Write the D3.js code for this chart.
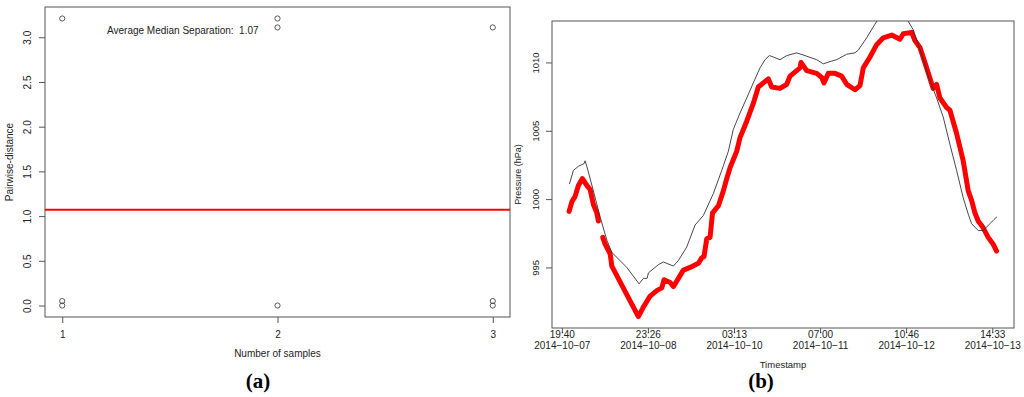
<!DOCTYPE html>
<html>
<head>
<meta charset="utf-8">
<script src="https://cdn.jsdelivr.net/npm/d3@7"></script>
<style>
  html, body { margin: 0; padding: 0; background: #fff; }
  svg { display: block; font-family: "Liberation Sans", Arial, sans-serif; }
</style>
</head>
<body>
<svg id="chart" width="1024" height="397"></svg>
<script>
// ---------- Panel (a) data ----------
const sampleCounts = [1, 1, 1, 2, 2, 2, 3, 3, 3];
const pairwiseDistances = [3.21, 0.05, 0.0, 3.21, 3.11, 0.0, 3.11, 0.05, 0.0];
const averageMedianSeparation = 1.07;
const panelAXTicks = [1, 2, 3];
const panelAYTicks = [0.0, 0.5, 1.0, 1.5, 2.0, 2.5, 3.0];

// ---------- Panel (b) data ----------
// Red (thick) series; null marks the gap in the record
const redTimes = [
  "2014-10-07 22:01","2014-10-07 22:54","2014-10-07 23:57","2014-10-08 01:01","2014-10-08 02:18",
  "2014-10-08 03:44","2014-10-08 04:48","2014-10-08 05:51","2014-10-08 06:57","2014-10-08 07:28",
  "2014-10-08 08:10",
  "2014-10-08 08:53","2014-10-08 09:38","2014-10-08 11:15","2014-10-08 11:48","2014-10-08 20:22",
  "2014-10-08 21:59","2014-10-09 00:09","2014-10-09 02:18","2014-10-09 03:55","2014-10-09 04:39",
  "2014-10-09 06:36","2014-10-09 07:39","2014-10-09 08:45","2014-10-09 10:53","2014-10-09 13:03",
  "2014-10-09 15:43","2014-10-09 16:49","2014-10-09 17:33","2014-10-09 18:26","2014-10-09 19:30",
  "2014-10-09 20:18","2014-10-09 22:10","2014-10-09 23:47","2014-10-10 00:53","2014-10-10 01:57",
  "2014-10-10 04:06","2014-10-10 05:10","2014-10-10 07:20","2014-10-10 09:27","2014-10-10 11:04",
  "2014-10-10 12:41","2014-10-10 14:18","2014-10-10 15:24","2014-10-10 18:04","2014-10-10 20:14",
  "2014-10-10 21:18","2014-10-11 00:31","2014-10-11 00:50","2014-10-11 02:41","2014-10-11 05:54",
  "2014-10-11 07:31","2014-10-11 08:16","2014-10-11 09:39","2014-10-11 11:48","2014-10-11 13:58",
  "2014-10-11 15:35","2014-10-11 18:15","2014-10-11 19:52","2014-10-11 20:56","2014-10-11 23:06",
  "2014-10-12 01:15","2014-10-12 03:23","2014-10-12 06:06","2014-10-12 08:46","2014-10-12 09:50",
  "2014-10-12 12:33","2014-10-12 13:36","2014-10-12 15:13","2014-10-12 17:23","2014-10-12 19:30",
  "2014-10-12 20:36","2014-10-12 21:40","2014-10-12 23:50","2014-10-13 00:54","2014-10-13 03:03",
  "2014-10-13 05:11","2014-10-13 06:48","2014-10-13 07:54","2014-10-13 08:57","2014-10-13 10:01",
  "2014-10-13 11:38","2014-10-13 13:15","2014-10-13 14:51","2014-10-13 15:57"
];
const redPressure = [
  999.1, 999.8, 1000.2, 1001.0, 1001.5,
  1001.0, 1000.7, 999.6, 999.0, 998.4,
  null,
  997.2, 996.7, 996.0, 995.1, 991.4,
  992.1, 992.9, 993.3, 993.5, 994.1,
  993.9, 993.6, 994.0, 994.8, 995.0,
  995.3, 995.7, 995.8, 997.1, 997.2,
  999.0, 999.5, 1000.6, 1001.5, 1002.3,
  1003.5, 1004.5, 1005.7, 1007.0, 1008.2,
  1008.5, 1008.8, 1008.2, 1008.1, 1008.4,
  1009.0, 1009.6, 1010.0, 1009.4, 1009.2,
  1008.9, 1008.5, 1009.2, 1009.2, 1009.0,
  1008.4, 1008.0, 1008.3, 1009.6, 1010.4,
  1011.3, 1011.8, 1012.0, 1011.7, 1012.1,
  1012.2, 1011.6, 1011.1, 1009.6, 1008.1,
  1008.4, 1007.4, 1006.7, 1006.5, 1004.8,
  1002.8, 1000.6, 999.9, 999.0, 998.4,
  997.9, 997.2, 996.7, 996.2
];
// Black (thin) series
const blackTimes = [
  "2014-10-07 22:07","2014-10-07 23:24","2014-10-08 01:01","2014-10-08 02:51","2014-10-08 03:11",
  "2014-10-08 03:44","2014-10-08 05:51","2014-10-08 08:01","2014-10-08 10:11","2014-10-08 11:48",
  "2014-10-08 16:38","2014-10-08 20:36","2014-10-08 21:59","2014-10-08 23:11","2014-10-08 23:36",
  "2014-10-09 02:49","2014-10-09 04:26","2014-10-09 07:39","2014-10-09 09:16","2014-10-09 11:59",
  "2014-10-09 14:39","2014-10-09 17:20","2014-10-09 20:33","2014-10-09 23:16","2014-10-10 01:24",
  "2014-10-10 03:00","2014-10-10 05:10","2014-10-10 07:20","2014-10-10 09:27","2014-10-10 11:37",
  "2014-10-10 13:14","2014-10-10 14:37","2014-10-10 15:54","2014-10-10 18:04","2014-10-10 20:14",
  "2014-10-10 23:27","2014-10-11 02:08","2014-10-11 05:54","2014-10-11 08:02","2014-10-11 10:45",
  "2014-10-11 12:21","2014-10-11 15:35","2014-10-11 18:15","2014-10-11 19:19","2014-10-11 22:02",
  "2014-10-12 00:42","2014-10-12 02:58","2014-10-12 06:11","2014-10-12 09:05","2014-10-12 11:27",
  "2014-10-12 13:03","2014-10-12 14:40","2014-10-12 15:46","2014-10-12 17:54","2014-10-12 20:36",
  "2014-10-12 22:44","2014-10-13 00:54","2014-10-13 03:03","2014-10-13 05:11","2014-10-13 06:48",
  "2014-10-13 07:54","2014-10-13 10:01","2014-10-13 11:38","2014-10-13 13:48","2014-10-13 15:05",
  "2014-10-13 16:03"
];
const blackPressure = [
  1001.1, 1002.1, 1002.4, 1002.6, 1002.8,
  1002.4, 1000.6, 998.7, 997.0, 996.1,
  995.0, 993.8, 994.2, 994.2, 994.6,
  995.2, 995.4, 995.1, 995.5, 996.5,
  998.1, 998.8, 1000.4, 1002.1, 1003.5,
  1005.1, 1006.3, 1007.4, 1008.5, 1009.6,
  1010.2, 1010.5, 1010.4, 1010.2, 1010.5,
  1010.7, 1010.5, 1010.2, 1009.9, 1010.1,
  1010.2, 1010.6, 1010.7, 1010.9, 1011.8,
  1012.8, 1013.6, 1014.1, 1013.9, 1013.0,
  1012.4, 1011.3, 1010.6, 1009.0, 1007.4,
  1006.0, 1004.0, 1002.1, 1000.1, 998.9,
  998.2, 997.7, 997.7, 998.2, 998.5,
  998.7
];
const panelBXTicks = ["2014-10-07 19:40","2014-10-08 23:26","2014-10-10 03:13",
                      "2014-10-11 07:00","2014-10-12 10:46","2014-10-13 14:33"];
const panelBYTicks = [995, 1000, 1005, 1010];

// ---------- Drawing ----------
const svg = d3.select("#chart");
const AXIS = "#555";
const TEXT = "#222";
const parse = d3.utcParse("%Y-%m-%d %H:%M");

function padExtent(ext, f) {
  const r = ext[1] - ext[0];
  return [ext[0] - f * r, ext[1] + f * r];
}

// ===== Panel (a) =====
(function () {
  const L = 45, R = 510, T = 7, B = 317;
  const x = d3.scaleLinear().domain(padExtent(d3.extent(sampleCounts), 0.04)).range([L, R]);
  const y = d3.scaleLinear().domain(padExtent(d3.extent(pairwiseDistances), 0.04)).range([B, T]);
  const g = svg.append("g");

  // y axis
  const ya = g.append("g").attr("transform", `translate(${L},0)`)
    .call(d3.axisLeft(y).tickValues(panelAYTicks).tickFormat(d3.format(".1f")).tickSize(6).tickPadding(0));
  ya.select(".domain").remove();
  ya.selectAll(".tick line").attr("stroke", AXIS);
  ya.selectAll(".tick text")
    .attr("transform", "rotate(-90)")
    .attr("x", 0).attr("y", -14).attr("dy", null)
    .attr("text-anchor", "middle")
    .attr("font-size", 10).attr("fill", TEXT);

  // x axis
  const xa = g.append("g").attr("transform", `translate(0,${B})`)
    .call(d3.axisBottom(x).tickValues(panelAXTicks).tickFormat(d3.format("d")).tickSize(6).tickPadding(8));
  xa.select(".domain").remove();
  xa.selectAll(".tick line").attr("stroke", AXIS);
  xa.selectAll(".tick text").attr("font-size", 10).attr("fill", TEXT);

  // box
  g.append("rect").attr("x", L).attr("y", T).attr("width", R - L).attr("height", B - T)
    .attr("fill", "none").attr("stroke", AXIS).attr("stroke-width", 1);

  // average median separation line
  g.append("line").attr("x1", L).attr("x2", R)
    .attr("y1", y(averageMedianSeparation)).attr("y2", y(averageMedianSeparation))
    .attr("stroke", "#ff0000").attr("stroke-width", 2);

  // points
  g.selectAll("circle.pt").data(sampleCounts.map((c, i) => [c, pairwiseDistances[i]]))
    .join("circle").attr("class", "pt")
    .attr("cx", d => x(d[0])).attr("cy", d => y(d[1])).attr("r", 2.6)
    .attr("fill", "none").attr("stroke", "#333").attr("stroke-width", 0.8);

  g.append("text").attr("x", 107).attr("y", 34).attr("font-size", 10).attr("fill", TEXT)
    .attr("xml:space", "preserve")
    .text("Average Median Separation:  " + averageMedianSeparation.toFixed(2));

  g.append("text").attr("transform", `translate(13,${(T + B) / 2}) rotate(-90)`)
    .attr("text-anchor", "middle").attr("font-size", 10).attr("fill", TEXT)
    .text("Pairwise-distance");
  g.append("text").attr("x", (L + R) / 2).attr("y", 357).attr("text-anchor", "middle")
    .attr("font-size", 10).attr("fill", TEXT).text("Number of samples");
  g.append("text").attr("x", 258).attr("y", 388).attr("text-anchor", "middle")
    .attr("font-family", "'Liberation Serif', 'Times New Roman', serif")
    .attr("font-weight", "bold").attr("font-size", 21).attr("fill", "#000").text("(a)");
})();

// ===== Panel (b) =====
(function () {
  const L = 552, R = 1014, T = 21, B = 328;
  const red = redTimes.map((t, i) => ({ t: parse(t), p: redPressure[i] }));
  const black = blackTimes.map((t, i) => ({ t: parse(t), p: blackPressure[i] }));
  const allT = red.concat(black).map(d => d.t);
  const tExt = d3.extent(allT);
  const tPad = (tExt[1] - tExt[0]) * 0.04;
  const x = d3.scaleUtc().domain([new Date(+tExt[0] - tPad), new Date(+tExt[1] + tPad)]).range([L, R]);
  const y = d3.scaleLinear()
    .domain(padExtent(d3.extent(redPressure.filter(v => v !== null)), 0.04)).range([B, T]);
  const g = svg.append("g");

  g.append("clipPath").attr("id", "clipB").append("rect")
    .attr("x", L).attr("y", T).attr("width", R - L).attr("height", B - T);

  // y axis
  const ya = g.append("g").attr("transform", `translate(${L},0)`)
    .call(d3.axisLeft(y).tickValues(panelBYTicks).tickFormat(d3.format("d")).tickSize(6).tickPadding(0));
  ya.select(".domain").remove();
  ya.selectAll(".tick line").attr("stroke", AXIS);
  ya.selectAll(".tick text")
    .attr("transform", "rotate(-90)")
    .attr("x", 0).attr("y", -13).attr("dy", null)
    .attr("text-anchor", "middle")
    .attr("font-size", 9.5).attr("fill", TEXT);

  // x axis
  const tickDates = panelBXTicks.map(parse);
  const xa = g.append("g").attr("transform", `translate(0,${B})`)
    .call(d3.axisBottom(x).tickValues(tickDates).tickFormat(() => "").tickSize(5));
  xa.select(".domain").remove();
  xa.selectAll(".tick line").attr("stroke", AXIS);
  const fmtTime = d3.utcFormat("%H:%M"), fmtDate = d3.utcFormat("%Y-%m-%d");
  xa.selectAll(".tick text").attr("font-size", 10).attr("fill", TEXT).attr("y", 0).attr("dy", null)
    .each(function (d) {
      const t = d3.select(this).text(null);
      t.append("tspan").attr("x", 0).attr("y", 10).text(fmtTime(d));
      t.append("tspan").attr("x", 0).attr("y", 21).text(fmtDate(d).replace(/-/g, "\u2212"));
    });

  // box
  g.append("rect").attr("x", L).attr("y", T).attr("width", R - L).attr("height", B - T)
    .attr("fill", "none").attr("stroke", AXIS).attr("stroke-width", 1);

  const line = d3.line().defined(d => d.p !== null).x(d => x(d.t)).y(d => y(d.p));

  g.append("path").datum(red).attr("d", line).attr("clip-path", "url(#clipB)")
    .attr("fill", "none").attr("stroke", "#ff0000").attr("stroke-width", 5)
    .attr("stroke-linejoin", "round").attr("stroke-linecap", "round");

  g.append("path").datum(black).attr("d", line).attr("clip-path", "url(#clipB)")
    .attr("fill", "none").attr("stroke", "#333").attr("stroke-width", 0.9);

  g.append("text").attr("transform", `translate(521,${(T + B) / 2}) rotate(-90)`)
    .attr("text-anchor", "middle").attr("font-size", 9).attr("fill", TEXT)
    .text("Pressure (hPa)");
  g.append("text").attr("x", (L + R) / 2).attr("y", 368).attr("text-anchor", "middle")
    .attr("font-size", 9.5).attr("fill", TEXT).text("Timestamp");
  g.append("text").attr("x", 761).attr("y", 388).attr("text-anchor", "middle")
    .attr("font-family", "'Liberation Serif', 'Times New Roman', serif")
    .attr("font-weight", "bold").attr("font-size", 21).attr("fill", "#000").text("(b)");
})();
</script>
</body>
</html>
